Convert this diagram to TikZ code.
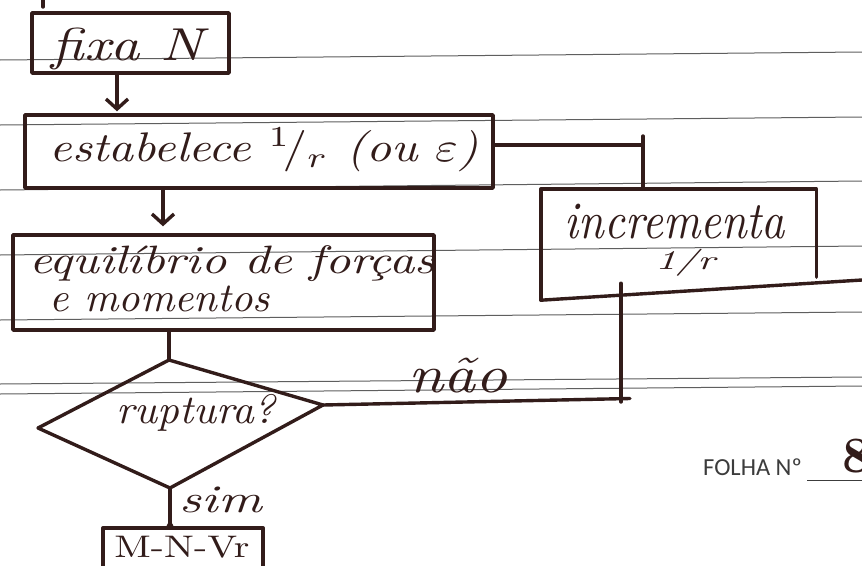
\documentclass[tikz,border=0pt]{standalone}
\usepackage{fontspec}
\usepackage{graphicx}
\newfontfamily\formfont{Carlito}
\usetikzlibrary{arrows.meta}
\definecolor{ink}{RGB}{50,28,26}
\definecolor{rulegray}{RGB}{95,95,95}
\definecolor{formgray}{RGB}{60,60,60}
% handwritten words: italic text stretched to a given width and total height
\newcommand{\hand}[3]{\resizebox*{#1pt}{#2pt}{\itshape #3}}

\begin{document}
\begin{tikzpicture}[x=1pt,y=-1pt,
  inkline/.style={draw=ink,line width=3.4pt,line cap=round,line join=round},
  box/.style={inkline,rectangle,inner sep=0pt},
  arr/.style={inkline,-{Straight Barb[length=10pt,width=22pt]}},
  hw/.style={text=ink,inner sep=0pt},
  ruling/.style={draw=rulegray,line width=1pt}]
\useasboundingbox[fill=white] (0,0) rectangle (862,565);

% ruled notebook lines
\draw[ruling] (0,60) -- (862,52);
\draw[ruling] (0,125) -- (862,117);
\draw[ruling] (0,190) -- (862,181);
\draw[ruling] (0,255) -- (862,246);
\draw[ruling] (0,320) -- (862,312);
\draw[ruling] (0,384) -- (862,377);
\draw[ruling] (0,394) -- (862,386);

% stray pen mark at the top
\draw[inkline] (43,0) -- (43,7);

% process boxes
\node[box,minimum width=197pt,minimum height=60pt] (fixa) at (130.5,43) {};
\node[box,minimum width=468pt,minimum height=73pt] (estab) at (259,151.5) {};
\node[box,minimum width=421pt,minimum height=95pt] (equil) at (223.5,282.5) {};
\node[box,minimum width=160pt,minimum height=52pt] (mnv) at (183,554) {};
% increment box: open sides, its bottom stroke runs on to the page edge
\node[inner sep=0pt,minimum width=275pt,minimum height=111pt] (incr) at (678.5,244.5) {};
\coordinate (edge) at (862,280);
\draw[inkline] (incr.south west) -- (incr.north west) -- (incr.north east) -- ([yshift=23pt]incr.south east);
\draw[inkline] (incr.south west) -- (edge);

% decision diamond
\coordinate (dtop) at (169,360);
\coordinate (dright) at (323,405);
\coordinate (dbot) at (170,488);
\coordinate (dleft) at (38,428);
\draw[inkline] (dtop) -- (dright) -- (dbot) -- (dleft) -- cycle;

% texts
\node[hw] (tfixa) at (127.5,49) {\hand{151}{42}{fixa N}};
\node[hw] (testab) at (264,150) {\hand{428}{44}{estabelece $^{1}\!/_{r}$ (ou $\varepsilon$)}};
\node[hw] (tequilA) at (232,264) {\hand{405}{36}{equilíbrio de forças}};
\node[hw] (tequilB) at (160,299) {\hand{220}{26}{e momentos}};
\node[hw] (trupt) at (196,413) {\hand{159}{37}{ruptura?}};
\node[hw] (tsim) at (221,500) {\hand{82}{26}{sim}};
\node[hw] (tmnv) at (182,547) {\resizebox*{135pt}{22pt}{M-N-Vr}};
\node[hw] (tincrA) at (675,222) {\hand{220}{35}{incrementa}};
\node[hw] (tincrB) at (685,263) {\hand{60}{27}{1/r}};
\node[hw] (tnao) at (458,376) {\hand{99}{35}{não}};

% main flow
\draw[arr,shorten >=2pt] ([xshift=-13.5pt]fixa.south) -- ([xshift=-13.5pt]fixa.south |- estab.north);
\draw[arr,shorten >=7pt] ([xshift=-96pt]estab.south) -- ([xshift=-96pt]estab.south |- equil.north);
\draw[inkline] (equil.south -| dtop) -- (dtop);
\draw[inkline] (dbot) -- (dbot |- mnv.north);
\fill[ink] (dbot |- mnv.north) circle (3.5pt);

% loop: no -> increment 1/r -> establish again
\coordinate (nb) at (621,399);
\draw[inkline] (dright) -- ([xshift=9pt,yshift=0.5pt]nb);
\draw[inkline] ([yshift=-3pt]nb) -- ([yshift=17pt]nb |- incr.south);
\coordinate (lp) at ([yshift=6.5pt]estab.east);
\coordinate (lq) at ([xshift=-35.5pt]incr.north);
\draw[inkline] (lp) -- (lp -| lq);
\draw[inkline] ([yshift=9pt]lp -| lq) -- (lq);

% sheet number field
\node[font=\formfont\fontsize{24.5}{26}\selectfont,text=formgray,anchor=base west,inner sep=0pt] (folha) at (703,475) {FOLHA Nº};
\draw[draw=formgray,line width=1pt] (807,480) -- (862,480);
\node[hw] (sheetno) at (856,456) {\resizebox*{28pt}{34pt}{\bfseries 8}};
\end{tikzpicture}
\end{document}
